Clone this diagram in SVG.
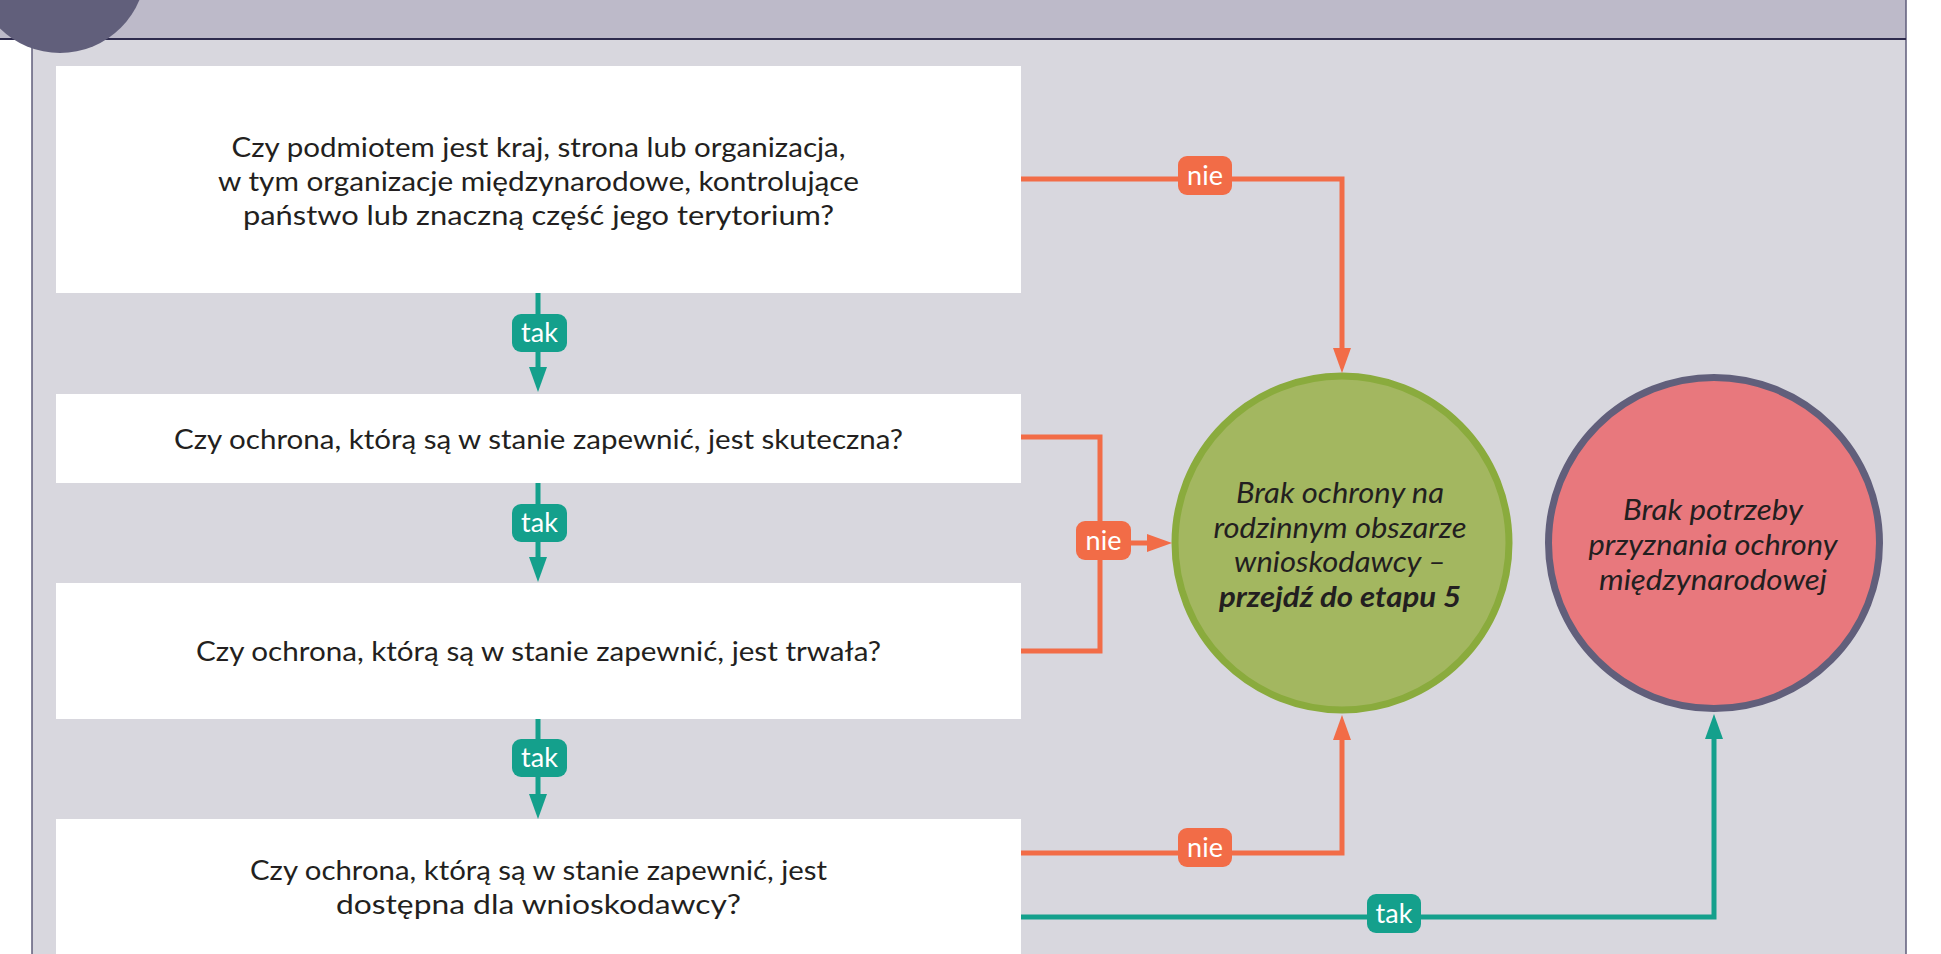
<svg xmlns="http://www.w3.org/2000/svg" width="1941" height="954" viewBox="0 0 1941 954">
<style>
.q{font-family:Lato,"Liberation Sans",sans-serif;font-size:26px;fill:#231f20;text-anchor:middle}
.c{font-family:Lato,"Liberation Sans",sans-serif;font-size:28px;font-style:italic;fill:#231f20;text-anchor:middle}
.lb{font-family:Lato,"Liberation Sans",sans-serif;font-size:27px;fill:#ffffff;text-anchor:middle}
.box{fill:#ffffff}
.or{fill:none;stroke:#f26c47;stroke-width:5}
.te{fill:none;stroke:#14a08c;stroke-width:5}
</style>
<defs>
<marker id="ao" markerUnits="userSpaceOnUse" markerWidth="25" markerHeight="18" viewBox="0 0 25 18" refX="1" refY="9" orient="auto"><path d="M0,0 L25,9 L0,18 z" fill="#f26c47"/></marker>
<marker id="at" markerUnits="userSpaceOnUse" markerWidth="25" markerHeight="18" viewBox="0 0 25 18" refX="1" refY="9" orient="auto"><path d="M0,0 L25,9 L0,18 z" fill="#14a08c"/></marker>
</defs>
<rect x="0" y="0" width="1941" height="954" fill="#ffffff"/>
<g id="frame">
<rect x="0" y="0" width="1906" height="39" fill="#bdbac9"/>
<rect x="32" y="39" width="1874" height="920" fill="#d8d7de"/>
<line x1="32" y1="39" x2="32" y2="954" stroke="#5f5d7a" stroke-width="1.5"/>
<line x1="1906" y1="0" x2="1906" y2="954" stroke="#5f5d7a" stroke-width="1.5"/>
<line x1="0" y1="39" x2="1906" y2="39" stroke="#2e2b4d" stroke-width="2"/>
<circle cx="60" cy="-33" r="86" fill="#615f7b"/>
</g>
<g id="q1">
<rect class="box" x="56" y="66" width="965" height="227"/>
<text class="q" x="538.5" y="157" textLength="614" lengthAdjust="spacingAndGlyphs">Czy podmiotem jest kraj, strona lub organizacja,</text>
<text class="q" x="538.5" y="191" textLength="641" lengthAdjust="spacingAndGlyphs">w tym organizacje międzynarodowe, kontrolujące</text>
<text class="q" x="538.5" y="225" textLength="591" lengthAdjust="spacingAndGlyphs">państwo lub znaczną część jego terytorium?</text>
</g>
<g id="q2">
<rect class="box" x="56" y="394" width="965" height="89"/>
<text class="q" x="538.5" y="449" textLength="729" lengthAdjust="spacingAndGlyphs">Czy ochrona, którą są w stanie zapewnić, jest skuteczna?</text>
</g>
<g id="q3">
<rect class="box" x="56" y="583" width="965" height="136"/>
<text class="q" x="538.5" y="661" textLength="685" lengthAdjust="spacingAndGlyphs">Czy ochrona, którą są w stanie zapewnić, jest trwała?</text>
</g>
<g id="q4">
<rect class="box" x="56" y="819" width="965" height="140"/>
<text class="q" x="538.5" y="880" textLength="577" lengthAdjust="spacingAndGlyphs">Czy ochrona, którą są w stanie zapewnić, jest</text>
<text class="q" x="538.5" y="914" textLength="405" lengthAdjust="spacingAndGlyphs">dostępna dla wnioskodawcy?</text>
</g>
<g id="end-green">
<circle cx="1342" cy="543" r="167" fill="#a3b760" stroke="#8aab3d" stroke-width="7"/>
<text class="c" x="1340" y="503" textLength="208" lengthAdjust="spacingAndGlyphs">Brak ochrony na</text>
<text class="c" x="1340" y="538" textLength="253" lengthAdjust="spacingAndGlyphs">rodzinnym obszarze</text>
<text class="c" x="1340" y="572" textLength="212" lengthAdjust="spacingAndGlyphs">wnioskodawcy –</text>
<text class="c" x="1340" y="607" font-weight="bold" textLength="242" lengthAdjust="spacingAndGlyphs">przejdź do etapu 5</text>
</g>
<g id="end-red">
<circle cx="1714" cy="543" r="165.5" fill="#e8787d" stroke="#615f7b" stroke-width="7"/>
<text class="c" x="1713" y="520" textLength="180" lengthAdjust="spacingAndGlyphs">Brak potrzeby</text>
<text class="c" x="1713" y="555" textLength="249" lengthAdjust="spacingAndGlyphs">przyznania ochrony</text>
<text class="c" x="1713" y="590" textLength="228" lengthAdjust="spacingAndGlyphs">międzynarodowej</text>
</g>
<g id="connectors">
<path class="te" d="M538,293 V368" marker-end="url(#at)"/>
<path class="te" d="M538,483 V558" marker-end="url(#at)"/>
<path class="te" d="M538,719 V795" marker-end="url(#at)"/>
<path class="or" d="M1021,179 H1342 V349" marker-end="url(#ao)"/>
<path class="or" d="M1021,437 H1100 V651 H1021"/>
<path class="or" d="M1128,543 H1148" marker-end="url(#ao)"/>
<path class="or" d="M1021,853 H1342 V739" marker-end="url(#ao)"/>
<path class="te" d="M1021,917 H1714 V738" marker-end="url(#at)"/>
<g id="labels">
<rect x="512" y="314" width="55" height="38" rx="9" fill="#14a08c"/>
<text class="lb" x="539.5" y="342">tak</text>
<rect x="512" y="504" width="55" height="38" rx="9" fill="#14a08c"/>
<text class="lb" x="539.5" y="532">tak</text>
<rect x="512" y="739" width="55" height="38" rx="9" fill="#14a08c"/>
<text class="lb" x="539.5" y="767">tak</text>
<rect x="1178" y="156" width="54" height="39" rx="9" fill="#f26c47"/>
<text class="lb" x="1205" y="184.5">nie</text>
<rect x="1076" y="521" width="55" height="39" rx="9" fill="#f26c47"/>
<text class="lb" x="1103.5" y="549.5">nie</text>
<rect x="1178" y="828" width="54" height="39" rx="9" fill="#f26c47"/>
<text class="lb" x="1205" y="856.5">nie</text>
<rect x="1367" y="894" width="54" height="39" rx="9" fill="#14a08c"/>
<text class="lb" x="1394" y="922.5">tak</text>
</g>
</g>
</svg>
